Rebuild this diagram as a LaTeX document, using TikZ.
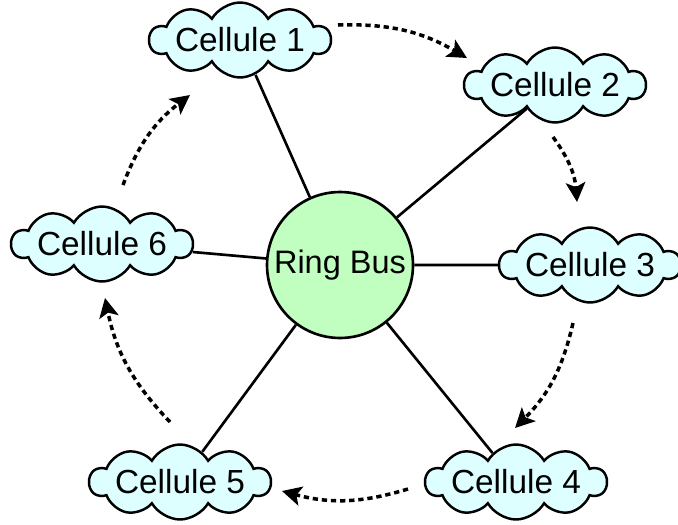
\documentclass[tikz,border=0pt]{standalone}
\usepackage{fontspec}
\setmainfont{Liberation Sans}
\usetikzlibrary{arrows.meta, positioning, calc, shapes, shapes.symbols}
\definecolor{CloudCyan}{RGB}{221,255,255}
\definecolor{BusGreen}{RGB}{192,255,192}

\begin{document}
\begin{tikzpicture}[x=0.02cm, y=-0.02cm,
    cellule/.style={cloud, cloud puffs=10, cloud puff arc=120, cloud ignores aspect, draw, line width=1.4pt, fill=CloudCyan, minimum width=3.55cm, minimum height=1.5cm, inner sep=0pt, font=\fontsize{19}{22}\selectfont},
    spoke/.style={line width=1.5pt},
    ringarrow/.style={-{Stealth[length=11pt, width=11pt, inset=2.5pt]}, line width=2pt, dash pattern=on 3pt off 2.2pt, bend left=16}]
    \useasboundingbox (0,0) rectangle (678,524);
    \node[circle, draw, line width=1.5pt, fill=BusGreen, minimum size=2.92cm, inner sep=0pt, font=\fontsize{18.5}{22}\selectfont] (bus) at (340,265) {Ring Bus};
    \node[cellule] (c1) at (240,40) {Cellule 1};
    \node[cellule] (c2) at (555,85) {Cellule 2};
    \node[cellule] (c3) at (590,265) {Cellule 3};
    \node[cellule] (c4) at (516,482) {Cellule 4};
    \node[cellule] (c5) at (180,482) {Cellule 5};
    \node[cellule] (c6) at (102,244) {Cellule 6};
    \foreach \c in {c1,c2,c3,c4,c5,c6}
        \draw[spoke] (bus) -- (\c);
    \coordinate (s1) at (338,25);  \coordinate (t1) at (467,58);
    \coordinate (s2) at (553,137); \coordinate (t2) at (577,202);
    \coordinate (s3) at (573,323); \coordinate (t3) at (515,428);
    \coordinate (s4) at (408,489); \coordinate (t4) at (282,491);
    \coordinate (s5) at (170,422); \coordinate (t5) at (105,298);
    \coordinate (s6) at (123,185); \coordinate (t6) at (190,95);
    \foreach \i in {1,...,6}
        \draw[ringarrow] (s\i) to (t\i);
\end{tikzpicture}
\end{document}
